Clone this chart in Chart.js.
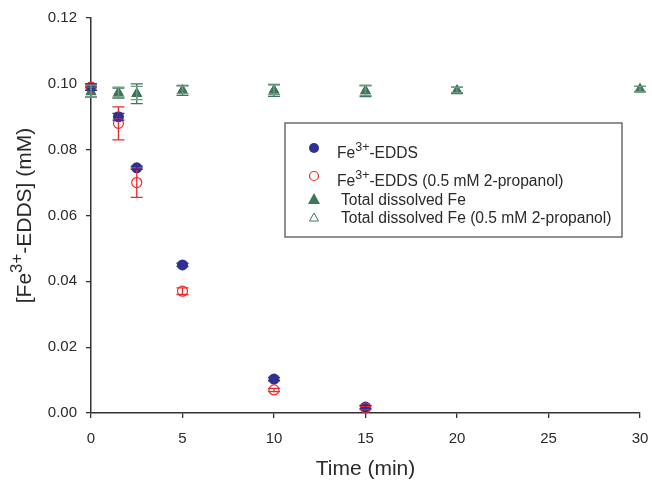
<!DOCTYPE html>
<html><head><meta charset="utf-8">
<script src="https://cdn.jsdelivr.net/npm/chart.js@4/dist/chart.umd.min.js"></script>
<style>html,body{margin:0;padding:0;background:#fff}#wrap{width:652px;height:480px;position:relative}</style>
</head><body><div id="wrap"><canvas id="c" width="652" height="480"></canvas></div>
<script>
const timeEdds = [0, 1.5, 2.5, 5, 10, 15];
const eddsVals = [0.099, 0.090, 0.0745, 0.045, 0.0103, 0.0018];
const eddsErr = [0.001, 0.001, 0.0005, 0.0005, 0.0005, 0.0005];
const eddsPropVals = [0.099, 0.088, 0.070, 0.037, 0.007, 0.0015];
const eddsPropErr = [0.001, 0.005, 0.0045, 0.001, 0.0005, 0.0005];
const timeFe = [0, 1.5, 2.5, 5, 10, 15, 20, 30];
const feVals = [0.0975, 0.0972, 0.097, 0.098, 0.098, 0.0978, 0.098, 0.0984];
const feErr = [0.0015, 0.0015, 0.003, 0.0015, 0.0018, 0.0017, 0.001, 0.0008];
const fePropVals = [0.0978, 0.0975, 0.0972, 0.0982, 0.0982, 0.098, 0.0981, 0.0984];
const fePropErr = [0.0018, 0.0015, 0.002, 0.0012, 0.0015, 0.0015, 0.0008, 0.0008];
const yTicks = [0, 0.02, 0.04, 0.06, 0.08, 0.10, 0.12];
const xTicks = [0, 5, 10, 15, 20, 25, 30];

const BLUE = '#2e3192', RED = '#ee2a2a', GREEN = '#3f765a', LGREEN = '#6f9c82';
const pts = (xs, ys) => xs.map((x, i) => ({x, y: ys[i]}));
const FONT = '"Liberation Sans", Arial, sans-serif';
const TXT = '#2a2a2a';

const errPlugin = {
  id: 'err',
  afterDatasetsDraw(chart) {
    const ctx = chart.ctx, xs = chart.scales.x, ys = chart.scales.y;
    chart.data.datasets.forEach(ds => {
      if (!ds.err) return;
      ctx.save();
      ctx.strokeStyle = ds.errColor; ctx.lineWidth = 1.3;
      ds.data.forEach((p, i) => {
        const e = ds.err[i];
        const px = xs.getPixelForValue(p.x);
        const y1 = ys.getPixelForValue(p.y + e), y2 = ys.getPixelForValue(p.y - e);
        ctx.beginPath();
        ctx.moveTo(px, y1); ctx.lineTo(px, y2);
        ctx.moveTo(px - 6, y1); ctx.lineTo(px + 6, y1);
        ctx.moveTo(px - 6, y2); ctx.lineTo(px + 6, y2);
        ctx.stroke();
      });
      ctx.restore();
    });
  }
};

function supText(ctx, parts, x, y, size) {
  parts.forEach(([t, sup]) => {
    ctx.font = (sup ? size * 0.8 : size) + 'px ' + FONT;
    ctx.fillText(t, x, sup ? y - size * 0.42 : y);
    x += ctx.measureText(t).width;
  });
  return x;
}

const annoPlugin = {
  id: 'anno',
  afterDraw(chart) {
    const ctx = chart.ctx, a = chart.chartArea;
    ctx.save();
    ctx.fillStyle = TXT;
    ctx.textBaseline = 'alphabetic';
    ctx.save();
    ctx.translate(24, (a.top + a.bottom) / 2);
    ctx.rotate(-Math.PI / 2);
    const parts = [['[Fe', false], ['3+', true], ['-EDDS] (mM)', false]];
    const ts = 21;
    let w = 0;
    parts.forEach(([t, s]) => { ctx.font = (s ? ts * 0.8 : ts) + 'px ' + FONT; w += ctx.measureText(t).width; });
    supText(ctx, parts, -w / 2, 7, ts);
    ctx.restore();
    ctx.font = '21px ' + FONT;
    ctx.textAlign = 'center';
    ctx.fillText('Time (min)', (a.left + a.right) / 2, 475);
    ctx.textAlign = 'left';
    const lx = 285, ly = 123, lw = 337, lh = 114;
    ctx.strokeStyle = '#555'; ctx.lineWidth = 1.3;
    ctx.strokeRect(lx, ly, lw, lh);
    const mx = 314;
    ctx.fillStyle = BLUE;
    ctx.beginPath(); ctx.arc(mx, 148, 5, 0, 2 * Math.PI); ctx.fill();
    ctx.strokeStyle = RED; ctx.lineWidth = 1.2;
    ctx.beginPath(); ctx.arc(mx, 176, 4.5, 0, 2 * Math.PI); ctx.stroke();
    ctx.fillStyle = GREEN;
    ctx.beginPath(); ctx.moveTo(mx, 193); ctx.lineTo(mx + 6, 204); ctx.lineTo(mx - 6, 204); ctx.closePath(); ctx.fill();
    ctx.strokeStyle = GREEN; ctx.lineWidth = 1;
    ctx.beginPath(); ctx.moveTo(mx, 213); ctx.lineTo(mx + 4.5, 221); ctx.lineTo(mx - 4.5, 221); ctx.closePath(); ctx.stroke();
    ctx.fillStyle = TXT;
    supText(ctx, [['Fe', false], ['3+', true], ['-EDDS', false]], 337, 158, 15.6);
    supText(ctx, [['Fe', false], ['3+', true], ['-EDDS (0.5 mM 2-propanol)', false]], 337, 186, 15.6);
    ctx.font = '15.6px ' + FONT;
    ctx.fillText('Total dissolved Fe', 341, 205);
    ctx.fillText('Total dissolved Fe (0.5 mM 2-propanol)', 341, 223);
    ctx.restore();
  }
};

new Chart(document.getElementById('c'), {
  type: 'scatter',
  data: {
    datasets: [
      {label: 'Fe3+-EDDS (0.5 mM 2-propanol)', data: pts(timeEdds, eddsPropVals), err: eddsPropErr, errColor: RED,
       pointStyle: 'circle', pointRadius: 5, backgroundColor: 'rgba(0,0,0,0)', borderColor: RED, borderWidth: 1.2, order: 1},
      {label: 'Fe3+-EDDS', data: pts(timeEdds, eddsVals), err: eddsErr, errColor: BLUE,
       pointStyle: 'circle', pointRadius: 5.5, backgroundColor: BLUE, borderColor: BLUE, borderWidth: 0, order: 2},
      {label: 'Total dissolved Fe', data: pts(timeFe, feVals), err: feErr, errColor: GREEN,
       pointStyle: 'triangle', pointRadius: 6.5, backgroundColor: GREEN, borderColor: GREEN, borderWidth: 0, order: 3},
      {label: 'Total dissolved Fe (0.5 mM 2-propanol)', data: pts(timeFe, fePropVals), err: fePropErr, errColor: LGREEN,
       pointStyle: 'triangle', pointRadius: 5, backgroundColor: 'rgba(0,0,0,0)', borderColor: GREEN, borderWidth: 1, order: 4}
    ].map(d => Object.assign(d, {clip: false}))
  },
  options: {
    responsive: false, animation: false,
    layout: {padding: {top: 18, right: 12, left: 0, bottom: 0}},
    plugins: {legend: {display: false}, tooltip: {enabled: false}},
    scales: {
      x: {
        type: 'linear', min: 0, max: 30,
        afterBuildTicks: s => { s.ticks = xTicks.map(v => ({value: v})); },
        afterFit: s => { s.height = 67; s.paddingRight = 0; s.paddingLeft = 0; },
        ticks: {color: TXT, font: {family: FONT, size: 15}, padding: 12, callback: v => String(v)},
        grid: {display: true, drawOnChartArea: false, drawTicks: true, tickLength: 5, color: '#333', lineWidth: 1.3},
        border: {display: true, color: '#333', width: 1.5}
      },
      y: {
        type: 'linear', min: 0, max: 0.12,
        afterBuildTicks: s => { s.ticks = yTicks.map(v => ({value: v})); },
        afterFit: s => { s.width = 91; s.paddingTop = 0; s.paddingBottom = 0; },
        ticks: {color: TXT, font: {family: FONT, size: 15}, padding: 9, callback: v => Number(v).toFixed(2)},
        grid: {display: true, drawOnChartArea: false, drawTicks: true, tickLength: 5, color: '#333', lineWidth: 1.3},
        border: {display: true, color: '#333', width: 1.5}
      }
    }
  },
  plugins: [errPlugin, annoPlugin]
});
</script></body></html>
